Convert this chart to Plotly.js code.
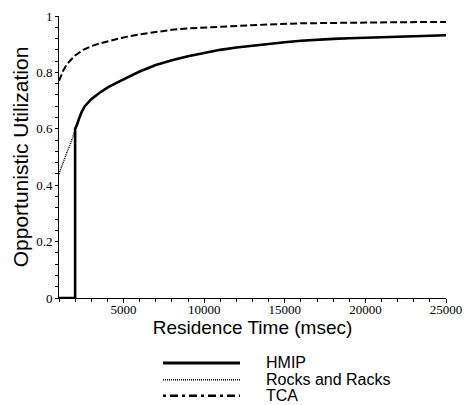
<!DOCTYPE html>
<html>
<head>
<meta charset="utf-8">
<script src="https://cdn.plot.ly/plotly-3.0.1.min.js"></script>
<style>html,body{margin:0;padding:0;background:#fff;}#chart{width:467px;height:405px;}</style>
</head>
<body>
<div id="chart"></div>
<script>
// Series names
const seriesNames = ["HMIP", "Rocks and Racks", "TCA"];

// HMIP
const hmipX = [1000, 2000, 2000, 2100, 2250, 2400, 2600, 2800, 3000, 3500, 4000, 4500, 5000, 6000, 7000, 8000, 9000, 10000, 11000, 12000, 13000, 14000, 15000, 16000, 17000, 18000, 19000, 20000, 21000, 22000, 23000, 24000, 25000];
const hmipY = [0, 0, 0.6, 0.612, 0.637, 0.659, 0.68, 0.694, 0.705, 0.727, 0.746, 0.761, 0.775, 0.803, 0.826, 0.843, 0.857, 0.869, 0.88, 0.888, 0.895, 0.901, 0.907, 0.912, 0.916, 0.919, 0.921, 0.923, 0.925, 0.927, 0.929, 0.931, 0.932];

// Rocks and Racks
const rrX = [1000, 1250, 1500, 1750, 2000, 2100, 2250, 2400, 2600, 2800, 3000, 3500, 4000, 4500, 5000, 6000, 7000, 8000, 9000, 10000, 11000, 12000, 13000, 14000, 15000, 16000, 17000, 18000, 19000, 20000, 21000, 22000, 23000, 24000, 25000];
const rrY = [0.44, 0.483, 0.518, 0.553, 0.6, 0.612, 0.637, 0.659, 0.68, 0.694, 0.705, 0.727, 0.746, 0.761, 0.775, 0.803, 0.826, 0.843, 0.857, 0.869, 0.88, 0.888, 0.895, 0.901, 0.907, 0.912, 0.916, 0.919, 0.921, 0.923, 0.925, 0.927, 0.929, 0.931, 0.932];

// TCA
const tcaX = [1000, 1250, 1500, 1750, 2000, 2500, 3000, 3500, 4000, 5000, 6000, 7000, 8000, 9000, 10000, 12000, 14000, 16000, 18000, 20000, 22000, 25000];
const tcaY = [0.77, 0.805, 0.83, 0.847, 0.86, 0.88, 0.893, 0.902, 0.91, 0.924, 0.935, 0.944, 0.951, 0.956, 0.959, 0.965, 0.97, 0.974, 0.976, 0.977, 0.978, 0.979];

// Axis settings
const xRange = [1000, 25000];
const yRange = [0, 1];
const xTickVals = [5000, 10000, 15000, 20000, 25000];
const xTickText = ["5000", "10000", "15000", "20000", "25000"];
const yTickVals = [0, 0.2, 0.4, 0.6, 0.8, 1];
const yTickText = ["0", "0.2", "0.4", "0.6", "0.8", "1"];

const styles = [
  {color: "#000", width: 2.6, dash: "solid", legendWidth: 3},
  {color: "#000", width: 1.5, dash: "1px,1px", legendWidth: 1.5},
  {color: "#000", width: 2, dash: "7px,3px", legendDash: "3px,4px,8px,4px", legendWidth: 2.5}
];

const xs = [hmipX, rrX, tcaX];
const ys = [hmipY, rrY, tcaY];
const drawOrder = [1, 0, 2];

const traces = drawOrder.map(i => ({
  type: "scatter", mode: "lines", name: seriesNames[i],
  x: xs[i], y: ys[i],
  line: {color: styles[i].color, width: styles[i].width, dash: styles[i].dash, shape: "linear"},
  showlegend: false, cliponaxis: false
}));

// Manual legend (plot area: left 59, right 446, top 15.5, bottom 298 px)
const L = 59, R = 446, T = 15.5, B = 298;
const px2x = p => (p - L) / (R - L);
const px2y = p => (B - p) / (B - T);
const legendRows = [363, 380, 396];
const shapes = [];
const annotations = [];
seriesNames.forEach((n, i) => {
  shapes.push({type: "line", xref: "paper", yref: "paper",
    x0: px2x(163), x1: px2x(240), y0: px2y(legendRows[i]), y1: px2y(legendRows[i]),
    line: {color: "#000", width: styles[i].legendWidth, dash: styles[i].legendDash || styles[i].dash}});
  annotations.push({xref: "paper", yref: "paper", x: px2x(264), y: px2y(legendRows[i]),
    xanchor: "left", yanchor: "middle", showarrow: false, text: n,
    font: {family: "'Liberation Sans', Arial, sans-serif", size: 16, color: "#000"}});
});

const tickFont = {family: "'Liberation Serif', 'Times New Roman', serif", size: 13, color: "#000"};
const titleFont = {family: "'Liberation Sans', Arial, sans-serif", size: 19, color: "#000"};

const layout = {
  width: 467, height: 405,
  margin: {l: L, r: 467 - R, t: T, b: 405 - B, pad: 0},
  paper_bgcolor: "#fff", plot_bgcolor: "#fff",
  showlegend: false,
  xaxis: {
    range: xRange, tickvals: xTickVals, ticktext: xTickText, showgrid: false, zeroline: false,
    showline: true, linecolor: "#000", linewidth: 1,
    ticks: "outside", ticklen: 4, tickcolor: "#000", tickwidth: 1,
    minor: {dtick: 1000, tick0: 0, ticks: "outside", ticklen: 3, tickcolor: "#000"},
    tickfont: tickFont, ticklabelstandoff: -5,
    title: {text: "Residence Time (msec)", standoff: 0, font: titleFont}
  },
  yaxis: {
    range: yRange, tickvals: yTickVals, ticktext: yTickText, showgrid: false, zeroline: false,
    showline: true, linecolor: "#000", linewidth: 1,
    ticks: "outside", ticklen: 3, tickcolor: "#000", tickwidth: 1,
    minor: {dtick: 0.04, tick0: 0, ticks: "outside", ticklen: 3, tickcolor: "#000"},
    tickfont: tickFont,
    title: {text: "Opportunistic Utilization", standoff: 1, font: {family: titleFont.family, size: 21, color: "#000"}}
  },
  shapes: shapes,
  annotations: annotations
};

Plotly.newPlot("chart", traces, layout, {displayModeBar: false, staticPlot: true});
</script>
</body>
</html>
